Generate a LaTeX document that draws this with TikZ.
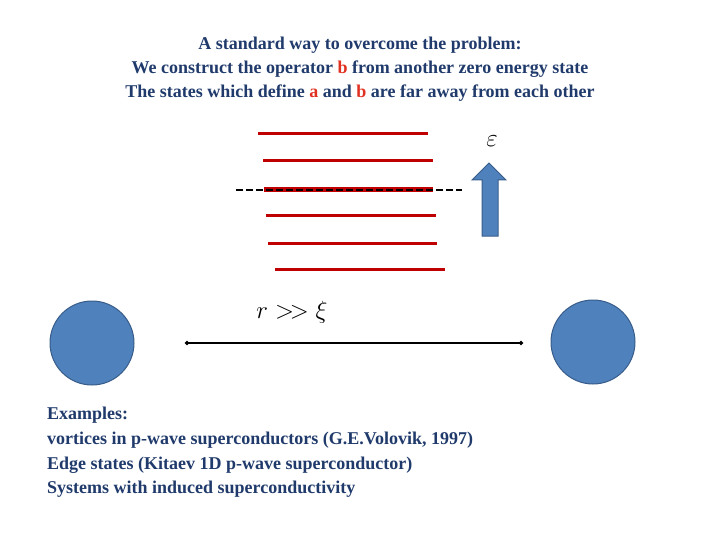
\documentclass[tikz,border=0pt]{standalone}
\usepackage{fontspec}
\usetikzlibrary{arrows.meta}
\setmainfont{Liberation Serif}
\definecolor{navy}{HTML}{1F3A6B}
\definecolor{lred}{HTML}{C00000}
\definecolor{dred}{HTML}{E03020}
\definecolor{bfill}{HTML}{4F81BD}
\definecolor{bdraw}{HTML}{385D8A}
\begin{document}
\begin{tikzpicture}[x=1pt,y=-1pt,
  txt/.style={font=\fontsize{18}{20}\selectfont\bfseries, text=navy, inner sep=0},
  lvl/.style={draw=lred, line width=3pt},
  dot/.style={circle, fill=bfill, draw=bdraw, line width=1pt, minimum size=84pt, inner sep=0}]
\useasboundingbox (0,0) rectangle (720,540);
\node[txt] (t1) at (360,45) {A standard way to overcome the problem:};
\node[txt] (t2) at (360,69) {We construct the operator \textcolor{dred}{b} from another zero energy state};
\node[txt] (t3) at (360,93) {The states which define \textcolor{dred}{a} and \textcolor{dred}{b} are far away from each other};
\draw[lvl] (258,134) -- (428,134);
\draw[lvl] (263,161) -- (433,161);
\draw[lvl, line width=5pt] (264,190) -- (433,190);
\draw[black, line width=2.6pt, dash pattern=on 7pt off 3pt] (236,190) -- (462,190);
\draw[lvl] (266,216) -- (436,216);
\draw[lvl] (268,243) -- (437,243);
\draw[lvl] (275,269) -- (445,269);
\draw[fill=bfill, draw=bdraw, line width=1pt] (482,236) -- (482,180) -- (472,180) -- (489,163) -- (506,180) -- (498,180) -- (498,236) -- cycle;
\node (eps) at (492,141) {\fontsize{30}{30}\selectfont$\varepsilon$};
\node (rxi) at (292,312) {\fontsize{32}{32}\selectfont$r >\!> \xi$};
\node[dot] (c1) at (92,343) {};
\node[dot] (c2) at (593,342) {};
\coordinate (l) at (185,343);
\coordinate (r) at (523,343);
\draw[line width=2pt, {Circle[length=4pt]}-{Circle[length=4pt]}] (l) -- (r);
\node[txt, anchor=west] (e1) at (47,415) {Examples:};
\node[txt, anchor=west] (e2) at (47,440) {vortices in p-wave superconductors (G.E.Volovik, 1997)};
\node[txt, anchor=west] (e3) at (47,465) {Edge states (Kitaev 1D p-wave superconductor)};
\node[txt, anchor=west] (e4) at (47,489) {Systems with induced superconductivity};
\end{tikzpicture}
\end{document}
